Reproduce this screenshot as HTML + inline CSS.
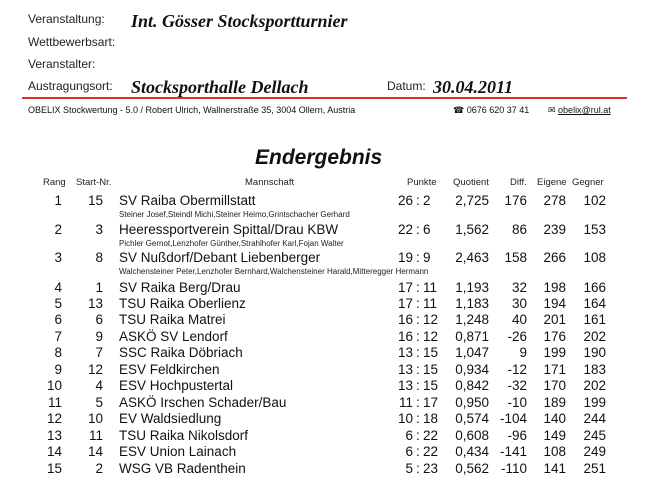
<!DOCTYPE html>
<html><head><meta charset="utf-8"><style>
body{margin:0;width:650px;height:490px;background:#fff;position:relative;overflow:hidden;font-family:"Liberation Sans",Arial,sans-serif;color:#111}
.a{position:absolute;white-space:nowrap;line-height:1}
.lbl{font-size:12px;color:#222}
.ser{font-family:"Liberation Serif",serif;font-weight:bold;font-style:italic;font-size:18px}
.h{font-size:9.5px;color:#222}
.r{font-size:13.5px}
.n{font-size:8px;color:#222}
.ra{text-align:right}
</style></head><body>
<div class="a lbl" style="left:28px;top:13px">Veranstaltung:</div>
<div class="a ser" style="left:131px;top:12px">Int. Gösser Stocksportturnier</div>
<div class="a lbl" style="left:28px;top:36px">Wettbewerbsart:</div>
<div class="a lbl" style="left:28px;top:58px">Veranstalter:</div>
<div class="a lbl" style="left:28px;top:80px">Austragungsort:</div>
<div class="a ser" style="left:131px;top:78px">Stocksporthalle Dellach</div>
<div class="a lbl" style="left:387px;top:80px">Datum:</div>
<div class="a ser" style="left:433px;top:78px">30.04.2011</div>
<div class="a" style="left:22px;top:97px;width:605px;height:2px;background:#d8332b"></div>
<div class="a" style="left:28px;top:106px;font-size:9px">OBELIX Stockwertung - 5.0 / Robert Ulrich, Wallnerstraße 35, 3004 Ollern, Austria</div>
<div class="a" style="left:453px;top:106px;font-size:9px">☎ 0676 620 37 41</div>
<div class="a" style="left:548px;top:106px;font-size:9px">✉ <span style="text-decoration:underline">obelix@rul.at</span></div>
<div class="a" style="left:255px;top:147px;font-size:21px;font-weight:bold;font-style:italic">Endergebnis</div>
<div class="a h" style="left:43px;top:178px">Rang</div>
<div class="a h" style="left:76px;top:178px">Start-Nr.</div>
<div class="a h" style="left:245px;top:178px">Mannschaft</div>
<div class="a h" style="left:407px;top:178px">Punkte</div>
<div class="a h" style="left:453px;top:178px">Quotient</div>
<div class="a h" style="left:510px;top:178px">Diff.</div>
<div class="a h" style="left:537px;top:178px">Eigene</div>
<div class="a h" style="left:572px;top:178px">Gegner</div>
<div id="rows"></div>
<script>
var d=[
[1,15,"SV Raiba Obermillstatt","26","2","2,725",176,278,102,"Steiner Josef,Steindl Michi,Steiner Heimo,Grintschacher Gerhard"],
[2,3,"Heeressportverein Spittal/Drau KBW","22","6","1,562",86,239,153,"Pichler Gernot,Lenzhofer Günther,Strahlhofer Karl,Fojan Walter"],
[3,8,"SV Nußdorf/Debant Liebenberger","19","9","2,463",158,266,108,"Walchensteiner Peter,Lenzhofer Bernhard,Walchensteiner Harald,Mitteregger Hermann"],
[4,1,"SV Raika Berg/Drau","17","11","1,193",32,198,166],
[5,13,"TSU Raika Oberlienz","17","11","1,183",30,194,164],
[6,6,"TSU Raika Matrei","16","12","1,248",40,201,161],
[7,9,"ASKÖ SV Lendorf","16","12","0,871",-26,176,202],
[8,7,"SSC Raika Döbriach","13","15","1,047",9,199,190],
[9,12,"ESV Feldkirchen","13","15","0,934",-12,171,183],
[10,4,"ESV Hochpustertal","13","15","0,842",-32,170,202],
[11,5,"ASKÖ Irschen Schader/Bau","11","17","0,950",-10,189,199],
[12,10,"EV Waldsiedlung","10","18","0,574",-104,140,244],
[13,11,"TSU Raika Nikolsdorf","6","22","0,608",-96,149,245],
[14,14,"ESV Union Lainach","6","22","0,434",-141,108,249],
[15,2,"WSG VB Radenthein","5","23","0,562",-110,141,251]];
var ys=[201,230,258,288,304,320,337,353,370,386,403,419,436,452,469];
var h="";
function c(x,y,t,cls,right){return '<div class="a '+cls+(right?' ra':'')+'" style="'+(right?'left:'+(x-80)+'px;width:80px':'left:'+x+'px')+';top:'+y+'px">'+t+'</div>';}
d.forEach(function(r,i){var y=ys[i]-7;
h+=c(62,y,r[0],"r",1)+c(103,y,r[1],"r",1)+c(119,y,r[2],"r")+c(413,y,r[3],"r",1)+c(416,y,":","r")+c(423,y,r[4],"r")+c(489,y,r[5],"r",1)+c(527,y,r[6],"r",1)+c(566,y,r[7],"r",1)+c(606,y,r[8],"r",1);
if(r[9])h+=c(119,ys[i]+10,r[9],"n");});
document.getElementById("rows").innerHTML=h;
</script>
</body></html>
